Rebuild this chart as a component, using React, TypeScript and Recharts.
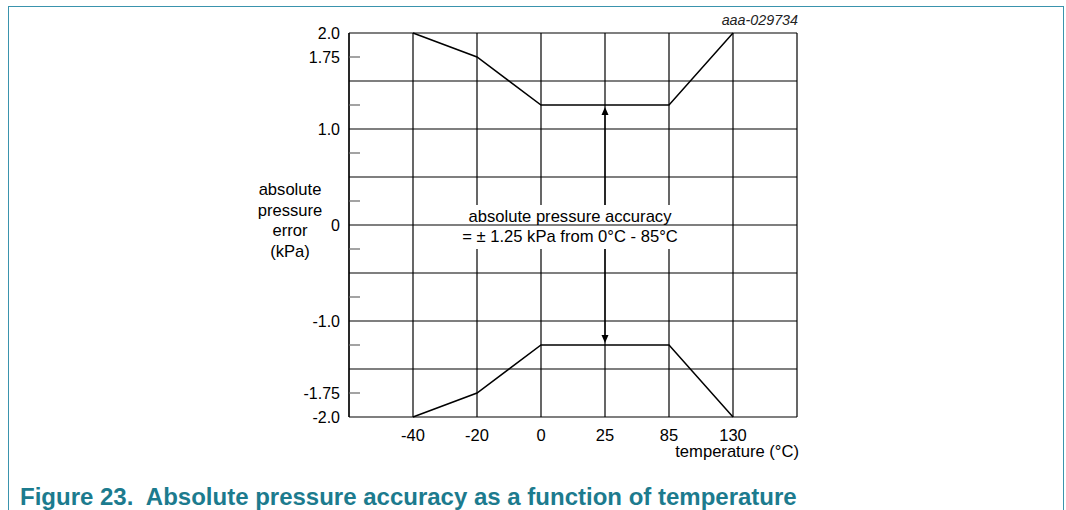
import React from 'react';
import { LineChart, Line, XAxis, YAxis, CartesianGrid, ReferenceLine } from 'recharts';

const temps = ['-40', '-20', '0', '25', '85', '130'];
const upperError = [2.0, 1.75, 1.25, 1.25, 1.25, 2.0];
const lowerError = [-2.0, -1.75, -1.25, -1.25, -1.25, -2.0];
const yTicks = [-2, -1.75, -1.5, -1.25, -1, -0.75, -0.5, -0.25, 0, 0.25, 0.5, 0.75, 1, 1.25, 1.5, 1.75, 2];
const yTickLabels: Record<string, string> = { '2': '2.0', '1.75': '1.75', '1': '1.0', '0': '0', '-1': '-1.0', '-1.75': '-1.75', '-2': '-2.0' };
const gridValues = [2, 1.5, 1, 0.5, -0.5, -1, -1.5];
const accuracyAt = '25';
const accuracy = 1.25;

const data = temps.map((t, i) => ({ t, upper: upperError[i], lower: lowerError[i] }));

const FONT = '"Liberation Sans", Arial, Helvetica, sans-serif';
const FRAME = '#3a93ad';
const TEAL = '#1c7b8e';

const YTick = (props: any) => {
  const { x, y, payload } = props;
  const v = payload.value;
  const label = yTickLabels[String(v)];
  const minor = Math.abs(Math.round(v * 4)) % 2 === 1;
  return (
    <g>
      {minor && <line x1={x + 9} x2={x + 20} y1={y} y2={y} stroke="#666" strokeWidth={1.2} />}
      {label && (
        <text x={x} y={y} dy={5.5} textAnchor="end" fontSize={16} fill="#000" fontFamily={FONT}>
          {label}
        </text>
      )}
    </g>
  );
};

// double-headed arrow between the two limit lines
const ArrowShape = (props: any) => {
  const { x1, y1, y2 } = props;
  const top = Math.min(y1, y2) + 2;
  const bot = Math.max(y1, y2) - 2;
  return (
    <g>
      <line x1={x1} x2={x1} y1={top + 6} y2={bot - 6} stroke="#000" strokeWidth={1.2} />
      <path d={`M${x1},${top} l-3.5,8 h7 z`} fill="#000" />
      <path d={`M${x1},${bot} l-3.5,-8 h7 z`} fill="#000" />
    </g>
  );
};

// zero line with the white note box over it
const ZeroNote = (props: any) => {
  const { x1, x2, y1 } = props;
  const cx = (x1 + x2) / 2 - 3;
  return (
    <g>
      <rect x={cx - 120} y={y1 - 20} width={240} height={44} fill="#fff" />
      <line x1={x1} x2={x2} y1={y1} y2={y1} stroke="#000" strokeWidth={1.2} />
      <text x={cx} y={y1 - 3} textAnchor="middle" fontSize={16.6} fill="#000" fontFamily={FONT}>
        absolute pressure accuracy
      </text>
      <text x={cx} y={y1 + 17} textAnchor="middle" fontSize={16.6} fill="#000" fontFamily={FONT}>
        = ± 1.25 kPa from 0°C - 85°C
      </text>
    </g>
  );
};

export default function App() {
  return (
    <div style={{ position: 'absolute', left: 0, top: 0, width: 1066, height: 510, background: '#fff', overflow: 'hidden', fontFamily: FONT }}>
      <div style={{ position: 'absolute', left: 8, top: 6, width: 1054, height: 520, borderLeft: `1.5px solid ${FRAME}`, borderTop: `1.5px solid ${FRAME}`, borderRight: `1.5px solid ${FRAME}` }} />
      <div style={{ position: 'absolute', left: 0, top: 0 }}>
        <LineChart width={1066} height={470} data={data} margin={{ top: 33, right: 269, bottom: 23, left: 289 }}>
          <CartesianGrid horizontal={false} stroke="#000" strokeWidth={1.2} />
          <XAxis
            dataKey="t"
            padding={{ left: 64, right: 64 }}
            tickLine={false}
            tickMargin={6}
            axisLine={{ stroke: '#000', strokeWidth: 1.2 }}
            tick={{ fill: '#000', fontSize: 16.5, fontFamily: FONT }}
            height={30}
          />
          <YAxis
            domain={[-2, 2]}
            ticks={yTicks}
            interval={0}
            tickSize={0}
            tickMargin={9}
            tickLine={false}
            axisLine={{ stroke: '#000', strokeWidth: 1.2 }}
            tick={<YTick />}
            width={60}
          />
          <YAxis yAxisId="r" orientation="right" width={0} tick={false} tickLine={false} axisLine={{ stroke: '#000', strokeWidth: 1.2 }} />
          {gridValues.map((v) => (
            <ReferenceLine key={v} y={v} stroke="#000" strokeWidth={1.2} />
          ))}
          <ReferenceLine
            segment={[{ x: accuracyAt, y: accuracy }, { x: accuracyAt, y: -accuracy }]}
            shape={<ArrowShape />}
          />
          <ReferenceLine y={0} shape={<ZeroNote />} />
          <Line dataKey="upper" stroke="#000" strokeWidth={1.5} dot={false} isAnimationActive={false} />
          <Line dataKey="lower" stroke="#000" strokeWidth={1.5} dot={false} isAnimationActive={false} />
        </LineChart>
      </div>
      <div style={{ position: 'absolute', left: 0, width: 798, top: 12, textAlign: 'right', fontSize: 14.3, fontStyle: 'italic', lineHeight: '16px', color: '#222' }}>
        aaa-029734
      </div>
      <div style={{ position: 'absolute', left: 240, width: 100, top: 180, textAlign: 'center', fontSize: 16.6, lineHeight: '20.6px', color: '#000' }}>
        absolute<br />pressure<br />error<br />(kPa)
      </div>
      <div style={{ position: 'absolute', left: 0, width: 799, top: 442, textAlign: 'right', fontSize: 16.6, lineHeight: '20px', color: '#000' }}>
        temperature (°C)
      </div>
      <div style={{ position: 'absolute', left: 20, top: 485, fontSize: 24, fontWeight: 'bold', lineHeight: '24px', color: TEAL, whiteSpace: 'pre' }}>
        {'Figure 23.  Absolute pressure accuracy as a function of temperature'}
      </div>
    </div>
  );
}
